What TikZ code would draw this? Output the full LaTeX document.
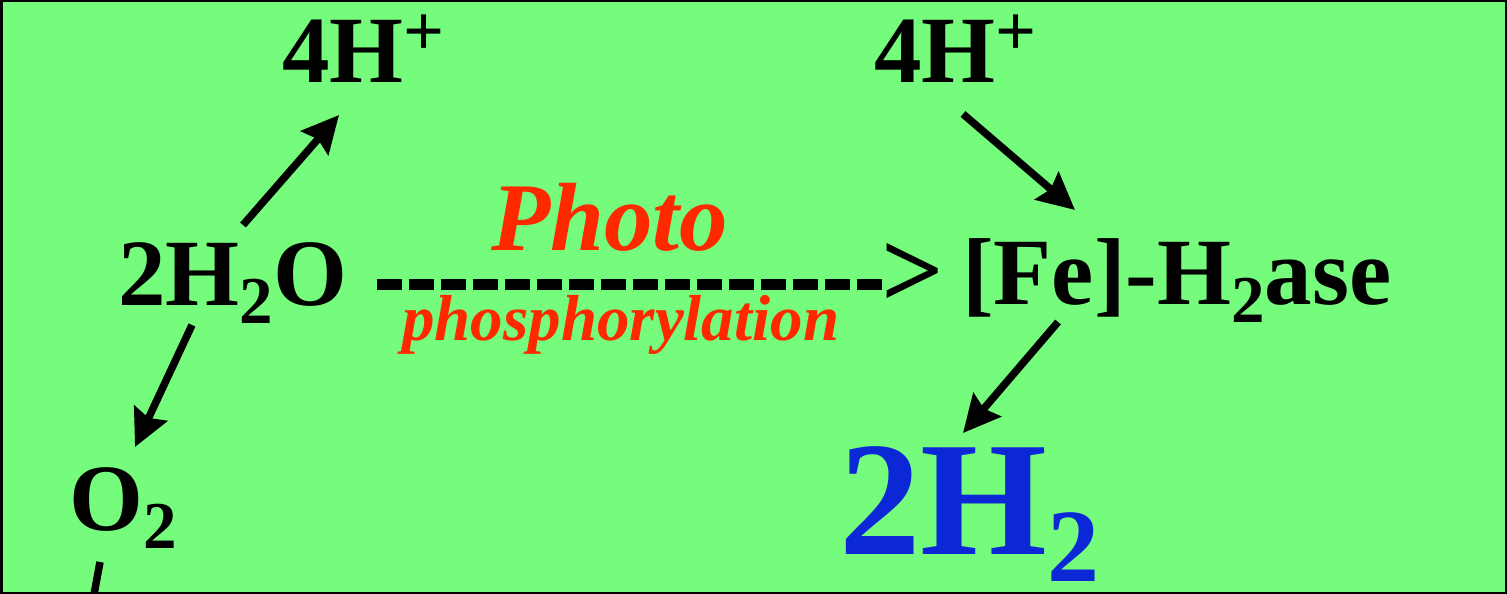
\documentclass[tikz,border=0pt]{standalone}
\usepackage{fontspec}
\setmainfont{Liberation Serif}
\usetikzlibrary{arrows.meta}
\definecolor{bgreen}{RGB}{118,252,124}
\definecolor{redt}{RGB}{255,40,0}
\definecolor{bluet}{RGB}{12,40,214}
\newcommand{\chsub}[1]{\raisebox{-18pt}{\fontsize{67}{67}\selectfont #1}}
\newcommand{\chsup}[1]{\raisebox{27pt}{\fontsize{72}{72}\selectfont #1}}
\newcommand{\bigsub}[1]{\raisebox{-27pt}{\fontsize{104}{104}\selectfont #1}}
\begin{document}
\begin{tikzpicture}[x=1pt,y=-1pt,
  chem/.style={inner sep=0pt, anchor=base west, font=\bfseries\fontsize{95}{95}\selectfont},
  bigchem/.style={inner sep=0pt, anchor=base west, text=bluet, font=\bfseries\fontsize{163}{163}\selectfont},
  redlab/.style={inner sep=0pt, anchor=base west, text=redt, font=\bfseries\itshape\fontsize{97}{97}\selectfont},
  redsmall/.style={inner sep=0pt, anchor=base west, text=redt, font=\bfseries\itshape\fontsize{65}{65}\selectfont},
  arrowtext/.style={inner sep=0pt, anchor=base west, font=\bfseries\fontsize{110}{110}\selectfont},
  react/.style={line width=7.5pt, -{Stealth[length=37pt,width=36pt,inset=5pt]}},
  plainline/.style={line width=7.5pt},
  dashline/.style={line width=11.5pt, dash pattern=on 25pt off 7pt}]
\useasboundingbox (0,0) rectangle (1507,594);
\fill[bgreen] (0,0) rectangle (1507,594);
\begin{scope}
\clip (0,0) rectangle (1507,594);
% nodes
\node[chem] (h4l) at (282,82) {4H\chsup{+}};
\node[chem] (h4r) at (874,82) {4H\chsup{+}};
\node[chem] (h2o) at (118,305) {2H\chsub{2}O};
\node[chem] (fe) at (962,304) {[Fe]-H\chsub{2}ase};
\node[chem] (o2) at (69,530) {O\chsub{2}};
\node[bigchem] (h2) at (839,554) {2H\bigsub{2}};
\node[redlab] (photo) at (491,250) {Photo};
\node[redsmall] (phos) at (402,340) {phosphorylation};
\node[arrowtext] (gt) at (881,307) {>};
% connector end points
\coordinate (a1s) at (243,225);
\coordinate (a1e) at (339,115);
\coordinate (a2s) at (192,325);
\coordinate (a2e) at (135,447);
\coordinate (a3s) at (963,114);
\coordinate (a3e) at (1075,210);
\coordinate (a4s) at (1058,322);
\coordinate (a4e) at (963,433);
\coordinate (ds) at (377,284.5);
\coordinate (de) at (882,284.5);
\coordinate (o2s) at (100,562);
\coordinate (o2e) at (93,600);
% connectors
\draw[react] (a1s) -- (a1e);
\draw[react] (a2s) -- (a2e);
\draw[react] (a3s) -- (a3e);
\draw[react] (a4s) -- (a4e);
\draw[dashline] (ds) -- (de);
\draw[plainline] (o2s) -- (o2e);
\end{scope}
\draw[line width=2.5pt] (1.25,1.25) rectangle (1505.75,592.75);
\end{tikzpicture}
\end{document}
